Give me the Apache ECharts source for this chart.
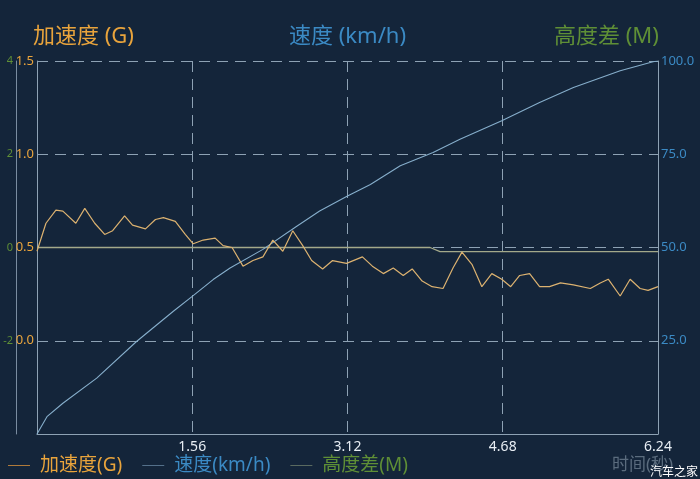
<!DOCTYPE html>
<html>
<head>
<meta charset="utf-8">
<script src="https://cdn.jsdelivr.net/npm/echarts@6/dist/echarts.min.js"></script>
<style>
html,body{margin:0;padding:0;background:#14253a;}
#c{width:700px;height:479px;}
</style>
</head>
<body>
<div id="c"></div>
<script>
// Time (s), acceleration (G)
const accTime = [0,0.09,0.19,0.26,0.39,0.48,0.58,0.68,0.76,0.88,0.96,1.09,1.19,1.27,1.39,1.49,1.57,1.67,1.79,1.87,1.96,2.07,2.17,2.27,2.37,2.47,2.57,2.67,2.76,2.87,2.97,3.11,3.27,3.37,3.48,3.58,3.68,3.77,3.87,3.97,4.08,4.18,4.27,4.37,4.47,4.57,4.67,4.76,4.85,4.95,5.05,5.15,5.26,5.39,5.56,5.66,5.74,5.86,5.96,6.06,6.14,6.24];
const accValues = [0.48,0.63,0.70,0.695,0.63,0.71,0.63,0.57,0.59,0.67,0.62,0.60,0.65,0.66,0.64,0.57,0.52,0.54,0.55,0.51,0.50,0.40,0.43,0.45,0.54,0.48,0.59,0.51,0.43,0.385,0.43,0.415,0.45,0.40,0.36,0.39,0.35,0.385,0.32,0.29,0.28,0.39,0.475,0.41,0.29,0.36,0.33,0.29,0.35,0.36,0.29,0.29,0.31,0.30,0.28,0.31,0.33,0.24,0.33,0.28,0.27,0.29];
// Time (s), speed (km/h)
const speedTime = [0,0.10,0.26,0.60,1.00,1.37,1.56,1.77,1.94,2.27,2.61,2.84,3.12,3.35,3.65,3.98,4.25,4.67,5.05,5.39,5.86,6.19,6.24];
const speedValues = [0,4.65,8.25,14.97,24.8,32.9,36.9,41.4,44.5,49.5,55.7,59.8,63.8,66.9,71.9,75.5,79.0,84.0,88.9,92.9,97.4,99.8,100];
// Time (s), height difference (M)
const heightTime = [0,3.95,4.05,6.24];
const heightValues = [0,0,-0.09,-0.09];

const xTicks = ['1.56','3.12','4.68','6.24'];
const seriesNames = ['加速度(G)','速度(km/h)','高度差(M)'];
const titleTexts = ['加速度 (G)','速度 (km/h)','高度差 (M)'];

const zip = (a,b)=>a.map((t,i)=>[t,b[i]]);

const cOrange = '#e9a43c', cBlue = '#3b8ac4', cGreen = '#5f8f36';
const lineAcc = '#dcb270', lineSpeed = '#86aecb', lineHeight = '#a3a98a';
const gridCol = '#8ea2b4';
const dash = [11,7];
const ff = '"Noto Sans", "Noto Sans CJK SC", sans-serif';

const chart = echarts.init(document.getElementById('c'), null, {renderer:'canvas'});
chart.setOption({
  backgroundColor: '#14253a',
  animation: false,
  textStyle: {fontFamily: ff},
  title: [
    {text: titleTexts[0], left: 28, top: 21, textStyle:{color:cOrange, fontSize:22, fontWeight:'normal', fontFamily:ff}},
    {text: titleTexts[1], left: 284, top: 21, textStyle:{color:cBlue, fontSize:22, fontWeight:'normal', fontFamily:ff}},
    {text: titleTexts[2], left: 549, top: 21, textStyle:{color:cGreen, fontSize:22, fontWeight:'normal', fontFamily:ff}},
    {text: '时间(秒)', left: 607, top: 452, textStyle:{color:'#5b6c7e', fontSize:17, fontWeight:'normal', fontFamily:ff}},
    {text: '汽车之家', left: 645, top: 462, textStyle:{color:'#ffffff', fontSize:12, fontWeight:'normal', fontFamily:ff}}
  ],
  legend: {
    left: 3, top: 451, itemWidth: 22, itemHeight: 10, itemGap: 20,
    icon: 'path://M0,5 L22,5 L22,6 L0,6 Z',
    textStyle: {fontSize: 19, fontFamily: ff, padding: [0,0,0,5]},
    data: [
      {name: seriesNames[0], textStyle:{color:cOrange}, itemStyle:{color:'#b07a3a'}},
      {name: seriesNames[1], textStyle:{color:cBlue}, itemStyle:{color:'#54708a'}},
      {name: seriesNames[2], textStyle:{color:cGreen}, itemStyle:{color:'#5a6a60'}}
    ]
  },
  grid: {left: 37, right: 42, top: 61, bottom: 45, containLabel: false},
  xAxis: {
    type: 'value', min: 0, max: 6.24, interval: 1.56,
    axisLine: {show: true, onZero: false, lineStyle: {color: gridCol, width: 1}},
    axisTick: {show: false},
    axisLabel: {color: '#e8eef4', fontSize: 14, margin: 6, fontFamily: ff,
      formatter: v => { const s = v.toFixed(2); return xTicks.includes(s) ? s : ''; }},
    splitLine: {show: true, lineStyle: {color: gridCol, type: dash, width: 1}}
  },
  yAxis: [
    {
      type: 'value', position: 'left', min: -0.5, max: 1.5, interval: 0.5,
      axisLine: {show: true, onZero: false, lineStyle: {color: gridCol}},
      axisTick: {show: false},
      axisLabel: {color: cOrange, fontSize: 13, margin: 3, fontFamily: ff,
        formatter: v => v < -0.01 ? '' : v.toFixed(1)},
      splitLine: {show: true, lineStyle: {color: gridCol, type: dash, width: 1}}
    },
    {
      type: 'value', position: 'right', min: 0, max: 100, interval: 25,
      axisLine: {show: true, onZero: false, lineStyle: {color: gridCol}},
      axisTick: {show: false},
      axisLabel: {color: cBlue, fontSize: 13, margin: 3, fontFamily: ff,
        formatter: v => v === 0 ? '' : v.toFixed(1)},
      splitLine: {show: false}
    },
    {
      type: 'value', position: 'left', offset: 21, min: -4, max: 4, interval: 2,
      axisLine: {show: true, onZero: false, lineStyle: {color: '#7a8ca0'}},
      axisTick: {show: false},
      axisLabel: {color: cGreen, fontSize: 11, margin: 3, fontFamily: ff,
        formatter: v => v === -4 ? '' : String(v)},
      splitLine: {show: false}
    }
  ],
  series: [
    {name: seriesNames[2], type: 'line', yAxisIndex: 2, data: zip(heightTime, heightValues),
      symbol: 'none', lineStyle: {color: lineHeight, width: 1.3}, itemStyle:{color: lineHeight}, z: 3},
    {name: seriesNames[1], type: 'line', yAxisIndex: 1, data: zip(speedTime, speedValues),
      symbol: 'none', lineStyle: {color: lineSpeed, width: 1.1}, itemStyle:{color: lineSpeed}, z: 4},
    {name: seriesNames[0], type: 'line', yAxisIndex: 0, data: zip(accTime, accValues),
      symbol: 'none', lineStyle: {color: lineAcc, width: 1.2}, itemStyle:{color: lineAcc}, z: 5}
  ]
});
</script>
</body>
</html>
